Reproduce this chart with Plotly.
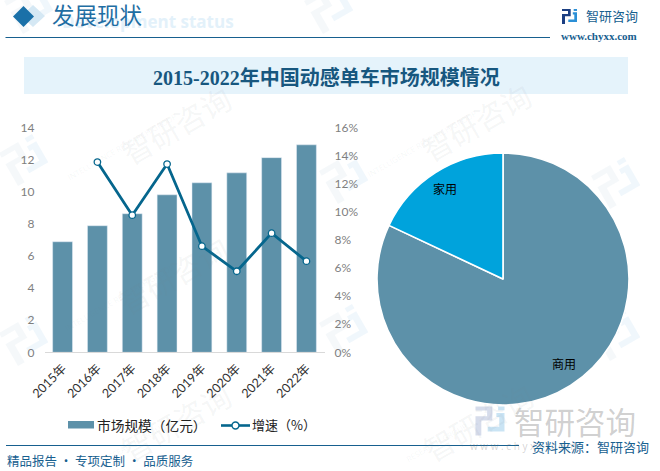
import math
import plotly.graph_objects as go

# ---- data ----
years = ["2015年", "2016年", "2017年", "2018年", "2019年", "2020年", "2021年", "2022年"]
market_size = [6.9, 7.9, 8.65, 9.83, 10.58, 11.2, 12.15, 12.95]
growth = [None, 13.57, 9.78, 13.43, 7.57, 5.78, 8.5, 6.5]
pie_labels = ["商用", "家用"]
pie_values = [82, 18]
left_ticks = [0, 2, 4, 6, 8, 10, 12, 14]
right_ticks = [0, 2, 4, 6, 8, 10, 12, 14, 16]
right_tick_labels = ["0%", "2%", "4%", "6%", "8%", "10%", "12%", "14%", "16%"]

W, H = 660, 471
BAR = "#5d91a9"
LINE = "#05668d"
SKY = "#00a3dc"
NAVY = "#17608f"
SANS = "Noto Sans CJK SC"
SERIF = "Liberation Serif, Noto Sans CJK SC"
NUM = "Lato, Noto Sans CJK SC"


def px(x):
    return x / W


def py(y):
    return 1 - y / H


fig = go.Figure()
fig.add_trace(go.Bar(x=years, y=market_size, marker_color=BAR, width=0.57,
                     name="市场规模（亿元）", xaxis="x", yaxis="y"))
fig.add_trace(go.Scatter(x=years, y=growth, mode="lines+markers", name="增速（%）",
                         line=dict(color=LINE, width=2.8),
                         marker=dict(size=6.5, color="white", line=dict(color=LINE, width=1.3)),
                         xaxis="x", yaxis="y2", connectgaps=False))
fig.add_trace(go.Pie(labels=pie_labels, values=pie_values, sort=False, direction="clockwise",
                     rotation=0, textinfo="none",
                     marker=dict(colors=[BAR, SKY], line=dict(color="white", width=1.6)),
                     domain=dict(x=[px(377), px(629)], y=[py(405), py(153)]),
                     showlegend=False))

shapes = []
annos = []


def text(x, y, s, size, color, family=SANS, anchor="left", angle=0, bold=False):
    annos.append(dict(x=px(x), y=py(y), xref="paper", yref="paper", text=f"<b>{s}</b>" if bold else s,
                      showarrow=False, xanchor=anchor, yanchor="middle", textangle=angle,
                      font=dict(size=size, color=color, family=family)))


def rect(x0, y0, x1, y1, color, layer="below"):
    shapes.append(dict(type="rect", xref="paper", yref="paper", x0=px(x0), x1=px(x1), y0=py(y0), y1=py(y1),
                       fillcolor=color, line_width=0, layer=layer))


def hline(x0, x1, y, color, width=1.2, layer="below"):
    shapes.append(dict(type="line", xref="paper", yref="paper", x0=px(x0), x1=px(x1), y0=py(y), y1=py(y),
                       line=dict(color=color, width=width), layer=layer))


def poly(points, color, layer="below"):
    d = "M" + " L".join(f"{px(a):.5f},{py(b):.5f}" for a, b in points) + " Z"
    shapes.append(dict(type="path", xref="paper", yref="paper", path=d, fillcolor=color, line_width=0, layer=layer))


# logo outlines on a 0-1 box
LOGO_A = [[(0, 0), (.58, 0), (.58, .48), (.2, .48), (.2, 1), (0, 1), (0, .34), (.4, .34), (.4, .14), (0, .14)]]
LOGO_B = [[(.72, .22), (1, .22), (1, .86), (.42, .86), (.42, .7), (.82, .7), (.82, .36), (.72, .36)],
          [(.78, 0), (1, 0), (1, .13), (.78, .13)]]


def logo(cx, cy, size, c1, c2, angle=0):
    a = math.radians(angle)
    for group, col in ((LOGO_A, c1), (LOGO_B, c2)):
        for pts in group:
            out = []
            for u, v in pts:
                dx, dy = (u - .5) * size, (v - .5) * size
                out.append((cx + dx * math.cos(a) - dy * math.sin(a), cy + dx * math.sin(a) + dy * math.cos(a)))
            poly(out, col)


# watermarks
WM = "rgba(120,130,140,0.08)"
for cx, cy in [(110, 125), (107, 275), (410, 122)]:
    text(cx, cy, "智研咨询", 30, WM, angle=-30)
    text(cx + 12, cy + 22, "INTELLIGENCE RESEARCH GROUP", 8, WM, family="Open Sans", anchor="center", angle=-30)
for cx, cy in [(110, 422), (412, 422)]:
    text(cx, cy, "智研咨询", 30, WM, angle=-30)
    text(cx + 24, cy + 20, "RESEARCH GROUP", 8, WM, family="Open Sans", anchor="center", angle=-30)
for cx, cy in [(25, 160), (25, 340), (345, 178), (345, 330), (617, 183), (617, 335), (30, 8), (330, 8)]:
    logo(cx, cy, 38, "rgba(120,150,190,0.07)", "rgba(90,170,220,0.09)", -30)

# header
poly([(33, 5), (45, 16), (33, 27), (21, 16)], "#d5e8f4")
poly([(23.5, 6), (34, 16.5), (23.5, 27), (13, 16.5)], "#1a70a8")
text(236, 22, "Development status", 17, "#e3f1fa", family="Open Sans", anchor="right", bold=True)
text(50, 17, "发展现状", 22.5, "#1f6ea3", family=SERIF)
hline(5.5, 550, 37.5, NAVY)
logo(569.5, 16.5, 15, "#1c3f82", "#2b8fd6")
text(584, 16, "智研咨询", 13, NAVY)
text(599, 36, "www.chyxx.com", 11, NAVY, family=SERIF, anchor="center", bold=True)

# title band
rect(24, 57, 628, 94, "#e5f3fb")
text(326, 78, "2015-2022年中国动感单车市场规模情况", 20, "#17577f", family=SERIF, anchor="center", bold=True)

# pie labels
text(445, 188, pie_labels[1], 12, "black", anchor="center")
text(564, 363, pie_labels[0], 12, "black", anchor="center")

# legend
rect(68, 421, 94, 428.5, BAR, layer="above")
text(95, 424.5, "市场规模（亿元）", 13.7, "#222222")
hline(221, 250, 425.5, LINE, 2.6, layer="above")
shapes.append(dict(type="circle", xref="paper", yref="paper", x0=px(232), x1=px(239), y0=py(429), y1=py(422),
                   fillcolor="white", line=dict(color=LINE, width=1.4), layer="above"))
text(250, 424.5, "增速（%）", 13, "#222222")

# footer
hline(6, 519, 445.5, NAVY)
logo(490, 421, 29, "rgba(120,140,190,0.30)", "rgba(80,165,220,0.30)")
text(512, 421, "智研咨询", 30.5, "rgba(110,110,110,0.32)")
text(578, 446, "w w w . c h y x x . c o m", 10, "rgba(110,110,110,0.30)", family="Open Sans", anchor="right")
text(530, 446, "资料来源：智研咨询", 13, NAVY)
text(5, 460, "精品报告 · 专项定制 · 品质服务", 12.5, NAVY)

fig.update_layout(
    width=W, height=H, margin=dict(l=0, r=0, t=0, b=0, autoexpand=False), showlegend=False,
    paper_bgcolor="white", plot_bgcolor="rgba(0,0,0,0)", shapes=shapes, annotations=annos,
    xaxis=dict(domain=[px(44.5), px(324.5)], tickangle=-45, tickfont=dict(family=NUM, size=12.5, color="#303030"),
               showgrid=False, showline=True, linecolor="#d9d9d9", linewidth=1, ticks="", anchor="y",
               ticklabelstandoff=3),
    yaxis=dict(domain=[py(352.3), py(128)], range=[0, 14], tickvals=left_ticks, showgrid=False, zeroline=False,
               tickfont=dict(family=NUM, size=12, color="#7f7f7f"), ticks="", anchor="x", ticklabelstandoff=9),
    yaxis2=dict(domain=[py(352.3), py(128)], range=[0, 16], tickmode="array", tickvals=right_ticks,
                ticktext=right_tick_labels, overlaying="y", side="right", showgrid=False, zeroline=False, anchor="x",
                tickfont=dict(family=NUM, size=12, color="#7f7f7f"), ticklabelstandoff=9),
    bargap=0.43,
)

fig.write_html("out.html", config={"displayModeBar": False}, post_script="document.body.style.margin='0';")
